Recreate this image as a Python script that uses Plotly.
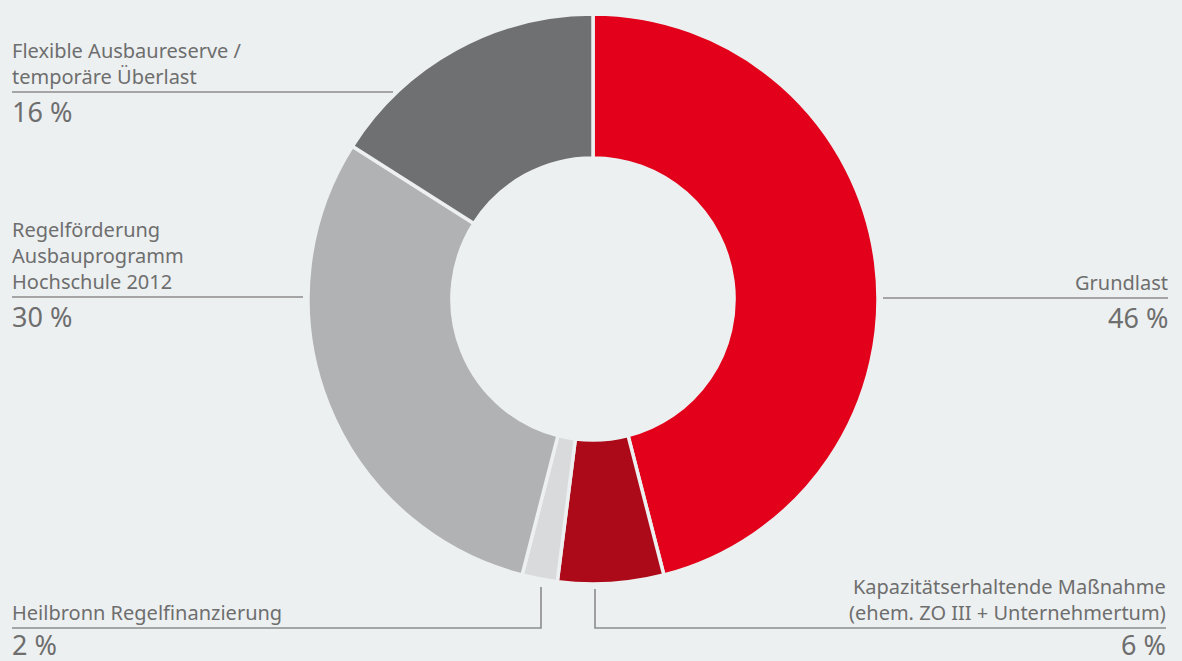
import plotly.graph_objects as go

# Funding shares, clockwise from 12 o'clock
categories = [
    "Grundlast",
    "Kapazitätserhaltende Maßnahme<br>(ehem. ZO III + Unternehmertum)",
    "Heilbronn Regelfinanzierung",
    "Regelförderung<br>Ausbauprogramm<br>Hochschule 2012",
    "Flexible Ausbaureserve /<br>temporäre Überlast",
]
shares = [46, 6, 2, 30, 16]
slice_colors = ["#e2001a", "#ad0a19", "#d9dadb", "#b1b2b3", "#6f7072"]

W, H = 1182, 661
BG = "#edf0f1"
TEXT = "#6e6e6e"
RULE = "#8c8c8c"
FONT = "Noto Sans"

# donut geometry in pixels
CX, CY, R = 593, 299, 285


def px(x):
    return x / W


def py(y):
    return 1 - y / H


fig = go.Figure(
    go.Pie(
        labels=[c.replace("<br>", " ") for c in categories],
        values=shares,
        sort=False,
        direction="clockwise",
        rotation=0,
        hole=0.495,
        marker=dict(colors=slice_colors, line=dict(color=BG, width=3.5)),
        textinfo="none",
        hoverinfo="label+percent",
        domain=dict(x=[px(CX - R), px(CX + R)], y=[py(CY + R), py(CY - R)]),
        showlegend=False,
    )
)

# label blocks: (text, anchor x, rule y, align, rule polyline, value offset)
blocks = [
    (categories[0], 1169, 298, "right", [(883, 298), (1168, 298)], 0),
    (categories[1], 1167, 628, "right", [(595, 589), (595, 628), (1166, 628)], -3),
    (categories[2], 11, 628, "left", [(541, 587), (541, 628), (12, 628)], -3),
    (categories[3], 11, 297, "left", [(12, 297), (303, 297)], 0),
    (categories[4], 11, 92, "left", [(12, 92), (393, 92)], 0),
]

shapes = []
annotations = []
for (label, ax, ry, align, pts, dy), val in zip(blocks, shares):
    path = "M " + " L ".join(f"{px(x)},{py(y)}" for x, y in pts)
    shapes.append(dict(type="path", xref="paper", yref="paper", path=path,
                       line=dict(color=RULE, width=1.6)))
    xanchor = "right" if align == "right" else "left"
    annotations.append(dict(
        x=px(ax), y=py(ry - 1), xref="paper", yref="paper",
        text=label, showarrow=False, xanchor=xanchor, yanchor="bottom",
        align=align, borderpad=0,
        font=dict(family=FONT, size=20, color=TEXT),
    ))
    annotations.append(dict(
        x=px(ax), y=py(ry + dy), xref="paper", yref="paper",
        text=f"{val} %", showarrow=False, xanchor=xanchor, yanchor="top",
        align=align, borderpad=0,
        font=dict(family=FONT, size=27, color=TEXT),
    ))

fig.update_layout(
    width=W, height=H,
    margin=dict(l=0, r=0, t=0, b=0),
    paper_bgcolor=BG, plot_bgcolor=BG,
    shapes=shapes, annotations=annotations,
)

fig.write_html("out.html")
